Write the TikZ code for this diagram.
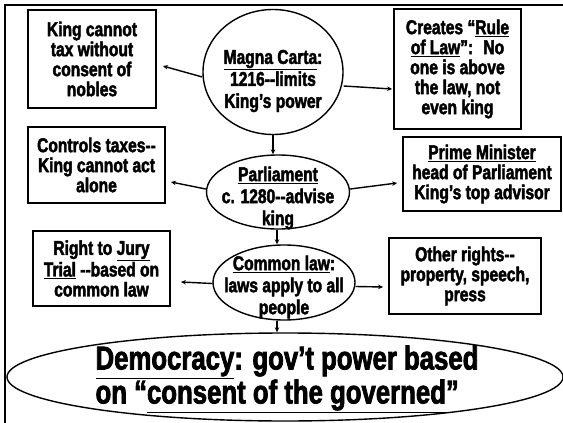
\documentclass[tikz,border=0pt]{standalone}
\usepackage{fontspec}
\setmainfont{Liberation Sans}[FakeStretch=0.78, BoldFeatures={FakeStretch=0.78, FakeBold=2.2}]
\usetikzlibrary{shapes.geometric,arrows.meta}
\begin{document}
\begin{tikzpicture}[x=1pt,y=-1pt,
  font=\bfseries\fontsize{20}{20}\selectfont,
  box/.style={draw, line width=1.8pt, align=center, inner sep=0pt},
  oval/.style={draw, ellipse, line width=1.4pt, inner sep=0pt},
  txt/.style={align=center, inner sep=0pt, font=\bfseries\fontsize{20}{22}\selectfont},
  arr/.style={line width=1.4pt, -{Stealth[length=5pt,width=4.5pt]}},
  frame/.style={line width=2.6pt}]
\useasboundingbox (0,0) rectangle (563,423);
% frame
\coordinate (ftl) at (5,5);
\coordinate (ftr) at (563,5);
\coordinate (fbl) at (5,423);
\draw[frame] (ftr) -- (ftl) -- (fbl);
% boxes
\node[box, minimum width=128pt, minimum height=98pt] (b1) at (92,59)
  {King cannot\\tax without\\consent of\\nobles};
\node[box, minimum width=127pt, minimum height=120pt] (b2) at (457.5,69)
  {Creates “\underline{Rule}\\\underline{of Law}”: \ No\\one is above\\the law, not\\even king};
\node[box, minimum width=137pt, minimum height=76pt] (b3) at (96.5,165)
  {Controls taxes-{}-\\King cannot act\\alone};
\node[box, minimum width=158pt, minimum height=74pt] (b4) at (482,174)
  {\underline{Prime Minister}\\head of Parliament\\King’s top advisor};
\node[box, minimum width=137pt, minimum height=75pt] (b5) at (101.5,268.5)
  {Right to \underline{Jury}\\\underline{Trial} -{}-based on\\common law};
\node[box, minimum width=152pt, minimum height=76pt] (b6) at (465,276)
  {Other rights-{}-\\property, speech,\\press};
% ovals
\node[oval, minimum width=140pt, minimum height=125pt] (mc) at (273,72) {};
\node[txt] (mct) at (273,81) {\underline{Magna Carta}:\\1216-{}-limits\\King’s power};
\node[oval, minimum width=143pt, minimum height=74pt] (par) at (278,192) {};
\node[txt] (part) at (278,198) {\underline{Parliament}\\c. 1280-{}-advise\\king};
\node[oval, minimum width=142pt, minimum height=75pt] (cl) at (284,282.5) {};
\node[txt] (clt) at (284,287) {\underline{Common law}:\\laws apply to all\\people};
\node[oval, minimum width=556pt, minimum height=88pt] (dem) at (285,377) {};
\node[align=left, inner sep=0pt, font=\bfseries\fontsize{33}{34}\selectfont] (demt) at (287,379)
  {\underline{Democracy}: gov’t power based\\on “\underline{consent of the governed}”};
% connectors
\draw[arr] ([yshift=-5pt]mc.west) -- ([xshift=6pt,yshift=-7pt]b1.east);
\draw[arr] ([yshift=-14pt]mc.east) -- ([xshift=-1pt,yshift=-20pt]b2.west);
\draw[arr] (mc.south) -- (mc.south |- par.north);
\draw[arr] ([yshift=3pt]par.west) -- ([xshift=5pt,yshift=-17pt]b3.east);
\draw[arr] ([yshift=3pt]par.east) -- ([xshift=-5pt,yshift=-9pt]b4.west);
\draw[arr] ([xshift=-1pt]par.south) -- ([xshift=-1pt]par.south |- cl.north);
\draw[arr] ([yshift=-1pt]cl.west) -- ([xshift=10pt,yshift=-13.5pt]b5.east);
\draw[arr] ([yshift=-4pt]cl.east) -- ([xshift=-5pt,yshift=-11pt]b6.west);
\draw[arr] ([xshift=-7pt]cl.south) -- ([xshift=-7pt]cl.south |- dem.north);
\end{tikzpicture}
\end{document}
